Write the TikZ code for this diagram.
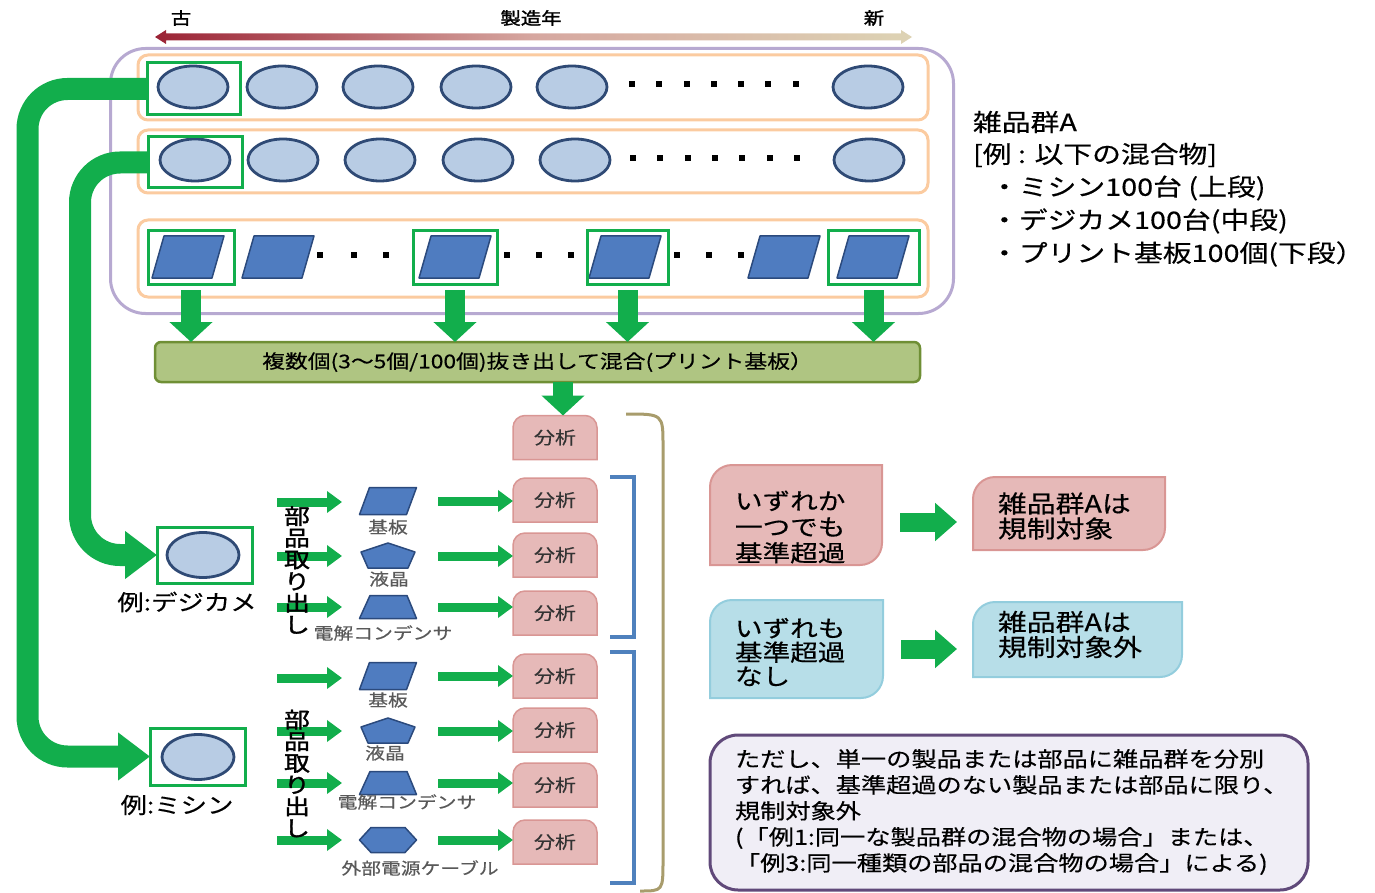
\documentclass[tikz,border=0pt]{standalone}
\usepackage{fontspec}
\newfontfamily\jp[FakeStretch=1.2,FakeBold=0.4]{Noto Sans CJK JP}
\newfontfamily\jpb[FakeStretch=1.2,FakeBold=1.6]{Noto Sans CJK JP}
\usetikzlibrary{shapes.geometric,arrows.meta,calc}
\pgfdeclarelayer{bg}
\pgfsetlayers{bg,main}
\definecolor{grn}{HTML}{12AE4C}
\definecolor{ellfill}{HTML}{B8CCE4}
\definecolor{ellline}{HTML}{2F4A75}
\definecolor{partfill}{HTML}{4F7CC0}
\definecolor{partline}{HTML}{2B4A7D}
\definecolor{rowor}{HTML}{FBCBA0}
\definecolor{purp}{HTML}{B7A9D1}
\definecolor{anfill}{HTML}{E6B9B8}
\definecolor{anline}{HTML}{D99694}
\definecolor{bfill}{HTML}{B7DEE8}
\definecolor{bline}{HTML}{93CDDD}
\definecolor{notefill}{HTML}{F0EEF6}
\definecolor{noteline}{HTML}{60497A}
\definecolor{mixfill}{HTML}{AFC582}
\definecolor{mixline}{HTML}{6F8F35}
\definecolor{arrL}{HTML}{9B2335}
\definecolor{arrM}{HTML}{D6A7A0}
\definecolor{arrR}{HTML}{DDD3B4}
\definecolor{bracecol}{HTML}{A89C6C}
\definecolor{bluebr}{HTML}{4F81BD}
\definecolor{graytxt}{HTML}{595959}
\newcommand\jpf[2]{\jp\fontsize{#1}{#2}\selectfont}
\newcommand\jpbf[2]{\jpb\fontsize{#1}{#2}\selectfont}
\newcommand\topround[3]{\path[#3] (#1.south west) -- ($(#1.north west)+(0,#2)$) .. controls ($(#1.north west)+(0,0.45*#2)$) and ($(#1.north west)+(0.45*#2,0)$) .. ($(#1.north west)+(#2,0)$) -- ($(#1.north east)+(-#2,0)$) .. controls ($(#1.north east)+(-0.45*#2,0)$) and ($(#1.north east)+(0,0.45*#2)$) .. ($(#1.north east)+(0,#2)$) -- (#1.south east) -- cycle;}
\newcommand\diaground[3]{\path[#3] (#1.south west) -- ($(#1.north west)+(0,#2)$) .. controls ($(#1.north west)+(0,0.45*#2)$) and ($(#1.north west)+(0.45*#2,0)$) .. ($(#1.north west)+(#2,0)$) -- (#1.north east) -- ($(#1.south east)+(0,-#2)$) .. controls ($(#1.south east)+(0,-0.45*#2)$) and ($(#1.south east)+(-0.45*#2,0)$) .. ($(#1.south east)+(-#2,0)$) -- cycle;}
\newcommand\bigpara[3]{\coordinate (#1) at (#2,#3); \path[part] ($(#1)+(-36,21)$) -- ($(#1)+(-24,-21)$) -- ($(#1)+(36,-21)$) -- ($(#1)+(24,21)$) -- cycle;}
\newcommand\partpara[3]{\coordinate (#1) at (#2,#3); \path[part] ($(#1)+(-28.5,13.5)$) -- ($(#1)+(-18.5,-13.5)$) -- ($(#1)+(28.5,-13.5)$) -- ($(#1)+(18.5,13.5)$) -- cycle;}
\newcommand\partpent[3]{\coordinate (#1) at (#2,#3); \path[part] ($(#1)+(0,-13)$) -- ($(#1)+(27,-4)$) -- ($(#1)+(20,12)$) -- ($(#1)+(-20,12)$) -- ($(#1)+(-27,-4)$) -- cycle;}
\newcommand\parttrap[3]{\coordinate (#1) at (#2,#3); \path[part] ($(#1)+(-28.5,11.5)$) -- ($(#1)+(-18,-11.5)$) -- ($(#1)+(19,-11.5)$) -- ($(#1)+(28.5,11.5)$) -- cycle;}
\newcommand\parthex[3]{\coordinate (#1) at (#2,#3); \path[part] ($(#1)+(-28.5,0)$) -- ($(#1)+(-17,-12.5)$) -- ($(#1)+(17,-12.5)$) -- ($(#1)+(28.5,0)$) -- ($(#1)+(17,12.5)$) -- ($(#1)+(-17,12.5)$) -- cycle;}
\tikzset{
  every node/.style={font=\jp, outer sep=0pt},
  ell/.style={ellipse, minimum width=70pt, minimum height=42pt, inner sep=0pt, fill=ellfill, draw=ellline, line width=2.8pt},
  gbox/.style={draw=grn, line width=3pt, inner sep=0pt},
  rowbox/.style={draw=rowor, line width=3pt, rounded corners=10pt, inner sep=0pt},
  part/.style={fill=partfill, draw=partline, line width=1.5pt, line join=round},
  dotsq/.style={fill=black, minimum size=6pt, inner sep=0pt},
  bigarrow/.style={draw=grn, line width=22pt, rounded corners=40pt, -{Triangle[length=32pt,width=46pt]}},
  darrow/.style={draw=grn, line width=20pt, -{Triangle[length=20pt,width=42pt]}},
  sarrow/.style={draw=grn, line width=9pt, -{Triangle[length=15pt,width=21pt]}},
  rarrow/.style={draw=grn, line width=19pt, -{Triangle[length=22pt,width=37pt]}},
  abox/.style={minimum width=84pt, minimum height=44pt, inner sep=0pt, font=\jpf{17.5}{18}, text=black!80},
  plabel/.style={font=\jpf{16.5}{18}, text=graytxt, inner sep=0pt},
  vtext/.style={font=\jpbf{21.5}{21.7}, align=center, inner sep=0pt},
  rtxt/.style={anchor=west, inner sep=0pt, font=\jpf{24}{30}},
  btxt/.style={anchor=west, inner sep=0pt, align=left},
  plain/.style={inner sep=0pt, minimum size=0pt}
}
\begin{document}
\begin{tikzpicture}[x=1pt,y=-1pt]
\useasboundingbox (0,0) rectangle (1375,893);
% manufacturing year arrow
\shade[left color=arrL, right color=arrR, middle color=arrM] (155,37) -- (166,30) -- (166,33.5) -- (901,33.5) -- (901,30) -- (912,37) -- (901,44) -- (901,40.5) -- (166,40.5) -- (166,44) -- cycle;
\node[font=\jpbf{17}{18}] (old) at (181,18) {古};
\node[font=\jpbf{17}{18}] (year) at (531,18) {製造年};
\node[font=\jpbf{17}{18}] (new) at (874,18) {新};
% group frame and rows
\node[draw=purp, line width=3pt, rounded corners=35pt, minimum width=843pt, minimum height=265pt, inner sep=0pt] (grp) at (532,181) {};
\node[rowbox, minimum width=790pt, minimum height=65pt] (r1) at (533,87.5) {};
\node[rowbox, minimum width=790pt, minimum height=63pt] (r2) at (533,161.5) {};
\node[rowbox, minimum width=790pt, minimum height=77pt] (r3) at (533,258.5) {};
% row 1 & 2 ellipses
\foreach \x [count=\i] in {193,282,378,476,572,868} \node[ell] (e\i) at (\x,87) {};
\foreach \x [count=\i] in {195,283,380,478,575,869} \node[ell] (f\i) at (\x,160) {};
\foreach \x [count=\i] in {632,659,687,714,741,768,796} \node[dotsq] (da\i) at (\x,84) {};
\foreach \x [count=\i] in {633,660,688,715,742,770,797} \node[dotsq] (db\i) at (\x,158) {};
% row 3 boards
\foreach \x [count=\i] in {188,278,455,625,784,873} {\bigpara{q\i}{\x}{257}}
\foreach \x [count=\i] in {320,354,386,507,539,571,677,709,741} \node[dotsq] (dc\i) at (\x,255) {};
% green selection boxes
\node[gbox, minimum width=93pt, minimum height=52pt] (g1) at (193.5,89) {};
\node[gbox, minimum width=94pt, minimum height=51pt] (g2) at (195,162.5) {};
\node[gbox, minimum width=86pt, minimum height=53pt] (h1) at (191,257.5) {};
\node[gbox, minimum width=84pt, minimum height=53pt] (h2) at (455,257.5) {};
\node[gbox, minimum width=81pt, minimum height=53pt] (h3) at (627.5,257.5) {};
\node[gbox, minimum width=91pt, minimum height=53pt] (h4) at (873.5,257.5) {};
% mixing box
\node[fill=mixfill, draw=mixline, line width=2.5pt, rounded corners=6pt, minimum width=765pt, minimum height=40pt, inner sep=0pt, font=\jpf{19}{22}] (mix) at (537.5,362) {複数個(3～5個/100個)抜き出して混合(プリント基板）};
\foreach \b in {h1,h2,h3,h4} \draw[darrow, shorten <=6pt] (\b.south) -- (\b.south |- mix.north);
% right description
\node[rtxt] (rt1) at (973,122) {雑品群A};
\node[rtxt] (rt2) at (973,155) {[例 : 以下の混合物]};
\node[rtxt] (rt3) at (990,188) {・ミシン100台 (上段)};
\node[rtxt] (rt4) at (990,221) {・デジカメ100台(中段)};
\node[rtxt] (rt5) at (990,254) {・プリント基板100個(下段）};
% analysis boxes
\foreach \y [count=\i] in {437.5,500,555,613,676,730,785,842} \node[abox] (a\i) at (555,\y) {分析};
\begin{pgfonlayer}{bg}
\foreach \i in {1,...,8} {\topround{a\i}{12}{fill=anfill, draw=anline, line width=1.5pt}}
\end{pgfonlayer}
\draw[darrow] ($(a1.north |- mix.south)+(8,0)$) -- ($(a1.north)+(8,0)$);
% brackets
\draw[bluebr, line width=3.5pt] (610,477) -- (634,477) -- (634,637) -- (610,637);
\draw[bluebr, line width=3.5pt] (610,652) -- (634,652) -- (634,883) -- (610,883);
\draw[bracecol, line width=3pt] (626,414) .. controls (663,414) .. (663,446) -- (663,860) .. controls (663,891) .. (640,891);
% product boxes
\node[gbox, minimum width=95pt, minimum height=56pt] (dbox) at (204.5,555) {};
\node[ell, minimum width=72pt, minimum height=45pt] (dell) at (203,555) {};
\node[font=\jpf{22}{24}, inner sep=0pt] (dlab) at (187,602) {例:デジカメ};
\node[gbox, minimum width=95pt, minimum height=57pt] (mbox) at (197.5,756.5) {};
\node[ell, minimum width=72pt, minimum height=45pt] (mell) at (198,757) {};
\node[font=\jpf{22}{24}, inner sep=0pt] (mlab) at (177,805) {例:ミシン};
% big arrows from the rows
\coordinate (bar1) at (27.5,0);
\coordinate (bar2) at (80,0);
\draw[bigarrow] (g1.west) -- (g1.west -| bar1) -- (mbox.west -| bar1) -- (mbox.west);
\draw[bigarrow] (g2.west) -- (g2.west -| bar2) -- (dbox.west -| bar2) -- (dbox.west);
% digicam parts
\partpara{dp1}{388}{501}
\partpent{dp2}{388}{556}
\parttrap{dp3}{388}{607}
\node[plabel] (dl1) at (388,527) {基板};
\node[plabel] (dl2) at (389,579) {液晶};
\node[plabel] (dl3) at (383,633) {電解コンデンサ};
\foreach \p/\s/\a in {dp1/502/a2, dp2/556/a3, dp3/607/a4} {
  \coordinate (s\p) at (277,\s);
  \draw[sarrow, shorten >=46pt] (s\p) -- (s\p -| \p);
  \draw[sarrow, shorten <=50pt] (\p) -- (\p -| \a.west);
}
% sewing machine parts
\partpara{mp1}{388}{676}
\partpent{mp2}{388}{731}
\parttrap{mp3}{388}{783}
\parthex{mp4}{388}{840}
\node[plabel] (ml1) at (388,700) {基板};
\node[plabel] (ml2) at (385,753) {液晶};
\node[plabel] (ml3) at (407,802) {電解コンデンサ};
\node[plabel] (ml4) at (420,868) {外部電源ケーブル};
\foreach \p/\s/\a in {mp1/678/a5, mp2/731/a6, mp3/783/a7, mp4/840/a8} {
  \coordinate (s\p) at (277,\s);
  \draw[sarrow, shorten >=46pt] (s\p) -- (s\p -| \p);
  \draw[sarrow, shorten <=50pt] (\p) -- (\p -| \a.west);
}
\node[vtext] (dv) at (297,570) {部\\品\\取\\り\\出\\し};
\node[vtext] (mv) at (297,773.5) {部\\品\\取\\り\\出\\し};
% judgement boxes
\node[plain, minimum width=172pt, minimum height=100pt] (p1) at (796,515) {};
\node[plain, minimum width=192pt, minimum height=73pt] (p2) at (1069,513.5) {};
\node[plain, minimum width=173pt, minimum height=98pt] (b1) at (796.5,649) {};
\node[plain, minimum width=209pt, minimum height=75pt] (b2) at (1077.5,639.5) {};
\begin{pgfonlayer}{bg}
\diaground{p1}{22}{fill=anfill, draw=anline, line width=2pt}
\diaground{p2}{22}{fill=anfill, draw=anline, line width=2pt}
\diaground{b1}{22}{fill=bfill, draw=bline, line width=2pt}
\diaground{b2}{22}{fill=bfill, draw=bline, line width=2pt}
\end{pgfonlayer}
\node[btxt, font=\jpf{23}{26}] (p1t) at (735,527) {いずれか\\一つでも\\基準超過};
\node[btxt, font=\jpf{24}{25}] (p2t) at (998,516) {雑品群Aは\\規制対象};
\node[btxt, font=\jpf{23}{24}] (b1t) at (735,652) {いずれも\\基準超過\\なし};
\node[btxt, font=\jpf{24}{25}] (b2t) at (998,634.5) {雑品群Aは\\規制対象外};
\draw[rarrow, shorten <=18pt, shorten >=16pt] ($(p1.east)+(0,7)$) -- ($(p1.east -| p2.west)+(0,7)$);
\draw[rarrow, shorten <=18pt, shorten >=16pt] (b1.east) -- (b1.east -| b2.west);
% note
\node[fill=notefill, draw=noteline, line width=3pt, rounded corners=28pt, minimum width=598pt, minimum height=155pt, inner sep=0pt] (note) at (1009,812.5) {};
\node[btxt, font=\jpf{21}{26}] (notet) at (735,812) {ただし、単一の製品または部品に雑品群を分別\\すれば、基準超過のない製品または部品に限り、\\規制対象外\\(「例1:同一な製品群の混合物の場合」または、\\「例3:同一種類の部品の混合物の場合」による)};
\end{tikzpicture}
\end{document}
